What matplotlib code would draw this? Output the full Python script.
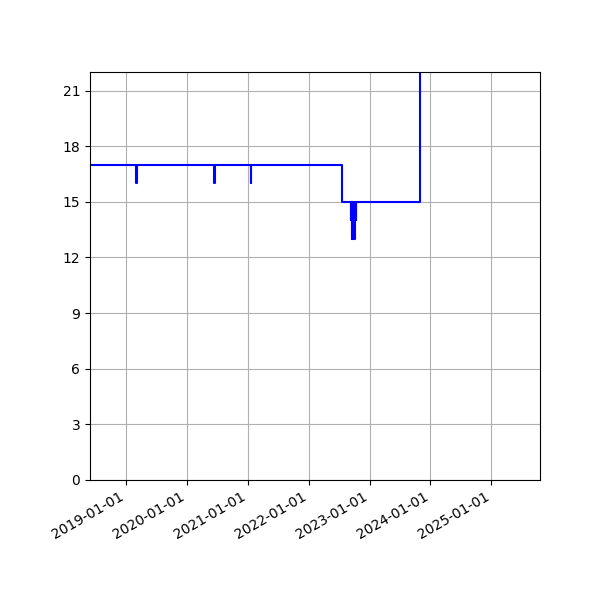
import matplotlib
matplotlib.use("Agg")
import matplotlib.pyplot as plt
import matplotlib.dates as mdates
import pandas as pd

# step data (value holds until the next date)
dates = [
    "2018-05-25", "2019-03-01", "2019-03-04",
    "2020-06-13", "2020-06-16",
    "2021-01-17", "2021-01-20",
    "2022-07-22",
    "2022-09-12", "2022-09-14", "2022-09-16", "2022-09-19",
    "2022-09-22", "2022-09-25", "2022-09-28", "2022-10-01",
    "2022-10-04", "2022-10-07", "2022-10-10", "2022-10-12",
    "2023-10-28", "2025-10-20",
]
values = [
    17, 16, 17,
    16, 17,
    16, 17,
    15,
    14, 15, 13, 15,
    14, 13, 15, 13,
    14, 15, 14, 15,
    25, 25,
]

x = pd.to_datetime(dates)

fig, ax = plt.subplots(figsize=(6, 6), dpi=100)
ax.plot(x, values, color="blue", drawstyle="steps-post", linewidth=1.5)

ax.set_xlim(pd.Timestamp("2018-05-28"), pd.Timestamp("2025-10-20"))
ax.set_ylim(0, 22)
ax.yaxis.set_major_locator(plt.MultipleLocator(3))
ax.xaxis.set_major_locator(mdates.YearLocator())
ax.xaxis.set_major_formatter(mdates.DateFormatter("%Y-%m-%d"))
ax.grid(True)

fig.autofmt_xdate()
fig.subplots_adjust(left=0.15, right=0.9, top=0.88, bottom=0.2)
fig.savefig("out.png")
